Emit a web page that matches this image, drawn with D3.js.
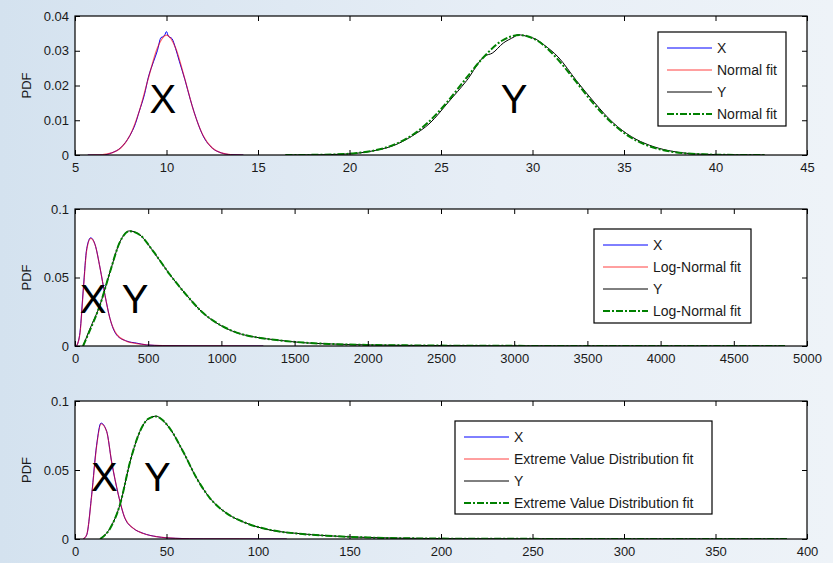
<!DOCTYPE html>
<html>
<head>
<meta charset="utf-8">
<script src="https://cdn.jsdelivr.net/npm/d3@7"></script>
<style>
  body { margin: 0; }
  svg text { font-family: "Liberation Sans", Arial, sans-serif; }
</style>
</head>
<body>
<svg id="chart" width="833" height="563"></svg>
<script>
// ---- data: [x, pdf] pairs ----
// panel 1 : normal fit
var p1X = [[5.7,0],[6.5,0],[7,0.0006],[7.5,0.0021],[8,0.0056],[8.3,0.009],[8.5,0.0124],[8.8,0.0175],[9,0.0222],[9.3,0.027],[9.5,0.030],[9.7,0.0338],[9.8,0.0340],[9.9,0.0345],[10,0.0355],[10.1,0.0342],[10.3,0.0335],[10.5,0.0306],[10.7,0.027],[11,0.0218],[11.3,0.016],[11.5,0.0125],[12,0.0055],[12.5,0.002],[13,0.0006],[13.5,0.0001],[14.2,0]];
var p1XFit = [[5.7,0],[6,0.00002],[6.5,0.0001],[7,0.0006],[7.5,0.002],[8,0.0056],[8.5,0.0124],[9,0.0219],[9.5,0.0308],[10,0.0345],[10.5,0.0308],[11,0.0219],[11.5,0.0124],[12,0.0056],[12.5,0.002],[13,0.0006],[13.5,0.0001],[14,0.00002],[14.2,0]];
var p1Y = [[16.5,0],[17.4,0.00002],[18.4,0.00006],[19.4,0.0002],[20.4,0.0005],[21.4,0.0013],[22.4,0.0027],[23.4,0.0054],[24.4,0.0092],[25.4,0.0152],[26.4,0.0214],[27.4,0.0285],[27.8,0.0293],[28.4,0.0322],[29,0.0340],[29.2,0.0346],[29.8,0.0340],[30.2,0.0333],[30.6,0.0318],[31.4,0.0282],[32.4,0.0214],[33.4,0.015],[34.4,0.0093],[35.4,0.0053],[36.4,0.0028],[37.4,0.0013],[38.4,0.0005],[39.4,0.0002],[40.4,0.00006],[41.4,0.00002],[42.7,0]];
var p1YFit = [[16.5,0],[17.3,0.00002],[18.3,0.00006],[19.3,0.00019],[20.3,0.00051],[21.3,0.00124],[22.3,0.0027],[23.3,0.0053],[24.3,0.0094],[25.3,0.015],[26.3,0.0216],[27.3,0.028],[28.3,0.0328],[29.3,0.0345],[30.3,0.0328],[31.3,0.028],[32.3,0.0216],[33.3,0.015],[34.3,0.0094],[35.3,0.0053],[36.3,0.0027],[37.3,0.00124],[38.3,0.00051],[39.3,0.00019],[40.3,0.00006],[41.3,0.00002],[42.7,0]];

// panel 2 : log-normal fit
var p2X = [[11,0],[34,0.010],[57,0.042],[80,0.071],[107,0.079],[137,0.074],[171,0.057],[205,0.037],[239,0.020],[285,0.008],[353,0.0036],[421,0.0021],[489,0.0008],[600,0.0003],[800,0.0001],[1000,0.00003],[1286,0]];
var p2XFit = [[11,0],[34,0.009],[57,0.041],[80,0.070],[107,0.0785],[137,0.074],[171,0.057],[205,0.037],[239,0.020],[285,0.0085],[353,0.0034],[421,0.0018],[489,0.0009],[600,0.0003],[800,0.0001],[1000,0.00003],[1286,0]];
var p2Y = [[55,0],[100,0.012],[171,0.030],[239,0.054],[307,0.076],[371,0.084],[444,0.081],[535,0.069],[649,0.052],[763,0.037],[876,0.024],[990,0.0153],[1104,0.0097],[1241,0.0063],[1378,0.0044],[1560,0.0024],[1742,0.0015],[2000,0.0008],[2500,0.0003],[3000,0.0001],[3500,0.00004],[4000,0.00002],[4850,0]];
var p2YFit = [[55,0],[100,0.011],[171,0.030],[239,0.054],[307,0.076],[371,0.0838],[444,0.081],[535,0.069],[649,0.052],[763,0.037],[876,0.024],[990,0.0155],[1104,0.0098],[1241,0.0063],[1378,0.0043],[1560,0.0025],[1742,0.0015],[2000,0.0008],[2500,0.0003],[3000,0.0001],[3500,0.00004],[4000,0.00002],[4850,0]];

// panel 3 : extreme value distribution fit
var p3X = [[4.5,0],[6.4,0.003],[9.1,0.032],[11.8,0.068],[14.2,0.084],[17.3,0.078],[20,0.056],[23.7,0.032],[27.3,0.015],[31.9,0.0077],[37.3,0.0041],[44.6,0.0017],[55,0.0005],[70,0.0001],[90,0.00002],[115.7,0]];
var p3XFit = [[4.5,0],[6.4,0.003],[9.1,0.031],[11.8,0.067],[14.2,0.0835],[17.3,0.078],[20,0.056],[23.7,0.032],[27.3,0.015],[31.9,0.0077],[37.3,0.0040],[44.6,0.0017],[55,0.0005],[70,0.0001],[90,0.00002],[115.7,0]];
var p3Y = [[13.7,0],[19.1,0.0077],[24.6,0.025],[30.1,0.056],[35.5,0.078],[40,0.087],[44.3,0.089],[48,0.086],[51.9,0.080],[59.2,0.063],[66.5,0.044],[73.8,0.0295],[82.9,0.0186],[93.8,0.0114],[106.6,0.0065],[121,0.0041],[137.5,0.0024],[160,0.0011],[200,0.0003],[250,0.0001],[300,0.00003],[389,0]];
var p3YFit = [[13.7,0],[19.1,0.0075],[24.6,0.025],[30.1,0.056],[35.5,0.078],[40,0.087],[44.3,0.0888],[48,0.086],[51.9,0.080],[59.2,0.063],[66.5,0.044],[73.8,0.0295],[82.9,0.0186],[93.8,0.0114],[106.6,0.0066],[121,0.0040],[137.5,0.0024],[160,0.0011],[200,0.0003],[250,0.0001],[300,0.00003],[389,0]];

// ticks
var p1XTicks = [5, 10, 15, 20, 25, 30, 35, 40, 45];
var p1YTicks = [0, 0.01, 0.02, 0.03, 0.04];
var p2XTicks = [0, 500, 1000, 1500, 2000, 2500, 3000, 3500, 4000, 4500, 5000];
var p2YTicks = [0, 0.05, 0.1];
var p3XTicks = [0, 50, 100, 150, 200, 250, 300, 350, 400];
var p3YTicks = [0, 0.05, 0.1];

var p1Legend = ["X", "Normal fit", "Y", "Normal fit"];
var p2Legend = ["X", "Log-Normal fit", "Y", "Log-Normal fit"];
var p3Legend = ["X", "Extreme Value Distribution fit", "Y", "Extreme Value Distribution fit"];

var svg = d3.select("#chart");

// slide-like background
var defs = svg.append("defs");
var bg = defs.append("linearGradient").attr("id", "bg")
    .attr("x1", "0%").attr("y1", "0%").attr("x2", "100%").attr("y2", "0%");
bg.append("stop").attr("offset", "0%").attr("stop-color", "#d4e2ef");
bg.append("stop").attr("offset", "60%").attr("stop-color", "#e7eef6");
bg.append("stop").attr("offset", "100%").attr("stop-color", "#eef3f8");
svg.append("rect").attr("width", 833).attr("height", 563).attr("fill", "url(#bg)");

var fmt = function(d) { return String(+d.toFixed(4)); };

function drawPanel(top, bottom, xDomain, yDomain, xTicks, yTicks, series, legend, labels) {
    var left = 75, right = 807;
    var x = d3.scaleLinear().domain(xDomain).range([left, right]);
    var y = d3.scaleLinear().domain(yDomain).range([bottom, top]);
    var g = svg.append("g");

    g.append("rect")
        .attr("x", left).attr("y", top)
        .attr("width", right - left).attr("height", bottom - top)
        .attr("fill", "#fff");

    var clipId = "clip" + top;
    defs.append("clipPath").attr("id", clipId)
        .append("rect").attr("x", left).attr("y", top - 2)
        .attr("width", right - left).attr("height", bottom - top + 2);

    var line = d3.line()
        .x(function(d) { return x(d[0]); })
        .y(function(d) { return y(d[1]); })
        .curve(d3.curveMonotoneX);

    var plot = g.append("g").attr("clip-path", "url(#" + clipId + ")");
    // empirical X, then fit, then empirical Y, then fit
    plot.append("path").attr("d", line(series[0])).attr("fill", "none")
        .attr("stroke", "#0000ff").attr("stroke-width", 1);
    plot.append("path").attr("d", line(series[1])).attr("fill", "none")
        .attr("stroke", "#ff0000").attr("stroke-opacity", 0.6).attr("stroke-width", 1.2);
    plot.append("path").attr("d", line(series[2])).attr("fill", "none")
        .attr("stroke", "#000").attr("stroke-width", 1);
    plot.append("path").attr("d", line(series[3])).attr("fill", "none")
        .attr("stroke", "#008000").attr("stroke-width", 2)
        .attr("stroke-dasharray", "7,2,2,2");

    // axes, matlab style: inward ticks on all four sides
    var xb = g.append("g").attr("transform", "translate(0," + bottom + ")")
        .call(d3.axisBottom(x).tickValues(xTicks).tickSizeInner(-5).tickSizeOuter(0).tickPadding(8).tickFormat(fmt));
    var xt = g.append("g").attr("transform", "translate(0," + top + ")")
        .call(d3.axisTop(x).tickValues(xTicks).tickSizeInner(-5).tickSizeOuter(0).tickFormat(""));
    var yl = g.append("g").attr("transform", "translate(" + left + ",0)")
        .call(d3.axisLeft(y).tickValues(yTicks).tickSizeInner(-5).tickSizeOuter(0).tickPadding(6).tickFormat(fmt));
    var yr = g.append("g").attr("transform", "translate(" + right + ",0)")
        .call(d3.axisRight(y).tickValues(yTicks).tickSizeInner(-5).tickSizeOuter(0).tickFormat(""));
    [xb, xt, yl, yr].forEach(function(a) {
        a.select(".domain").remove();
        a.selectAll("line").attr("stroke", "#000");
        a.selectAll("text").attr("font-size", 13).attr("fill", "#1a1a1a")
            .style("font-family", "'Liberation Sans', Arial, sans-serif");
    });
    g.append("rect")
        .attr("x", left).attr("y", top)
        .attr("width", right - left).attr("height", bottom - top)
        .attr("fill", "none").attr("stroke", "#000").attr("stroke-width", 1.2);

    g.append("text")
        .attr("transform", "translate(31," + ((top + bottom) / 2) + ") rotate(-90)")
        .attr("text-anchor", "middle").attr("font-size", 13).attr("fill", "#1a1a1a")
        .text("PDF");

    // big X / Y annotations
    labels.forEach(function(l) {
        g.append("text")
            .attr("x", x(l[1])).attr("y", y(l[2]))
            .attr("text-anchor", "middle").attr("font-size", 40).attr("fill", "#000")
            .text(l[0]);
    });

    // legend
    var lg = legend.box;
    var L = g.append("g");
    L.append("rect").attr("x", lg[0]).attr("y", lg[1]).attr("width", lg[2]).attr("height", lg[3])
        .attr("fill", "#fff").attr("stroke", "#000").attr("stroke-width", 1.2);
    var styles = [
        { c: "#0000ff", w: 1, dash: null },
        { c: "#ff4040", w: 1, dash: null },
        { c: "#000", w: 1, dash: null },
        { c: "#008000", w: 2, dash: "7,2,2,2" }
    ];
    legend.labels.forEach(function(t, i) {
        var yy = lg[1] + 16 + i * 22;
        L.append("line").attr("x1", lg[0] + 9).attr("x2", lg[0] + 54)
            .attr("y1", yy).attr("y2", yy)
            .attr("stroke", styles[i].c).attr("stroke-width", styles[i].w)
            .attr("stroke-dasharray", styles[i].dash);
        L.append("text").attr("x", lg[0] + 59).attr("y", yy + 5)
            .attr("font-size", 14).attr("fill", "#1a1a1a").text(t);
    });
}

drawPanel(16, 155, [5, 45], [0, 0.04], p1XTicks, p1YTicks,
    [p1X, p1XFit, p1Y, p1YFit],
    { box: [658, 32, 128, 94], labels: p1Legend },
    [["X", 9.8, 0.0121], ["Y", 29.0, 0.0121]]);

drawPanel(209, 346, [0, 5000], [0, 0.1], p2XTicks, p2YTicks,
    [p2X, p2XFit, p2Y, p2YFit],
    { box: [594, 229, 157, 94], labels: p2Legend },
    [["X", 124, 0.024], ["Y", 410, 0.024]]);

drawPanel(401, 539, [0, 400], [0, 0.1], p3XTicks, p3YTicks,
    [p3X, p3XFit, p3Y, p3YFit],
    { box: [455, 421, 257, 93], labels: p3Legend },
    [["X", 16, 0.035], ["Y", 45, 0.035]]);
</script>
</body>
</html>
